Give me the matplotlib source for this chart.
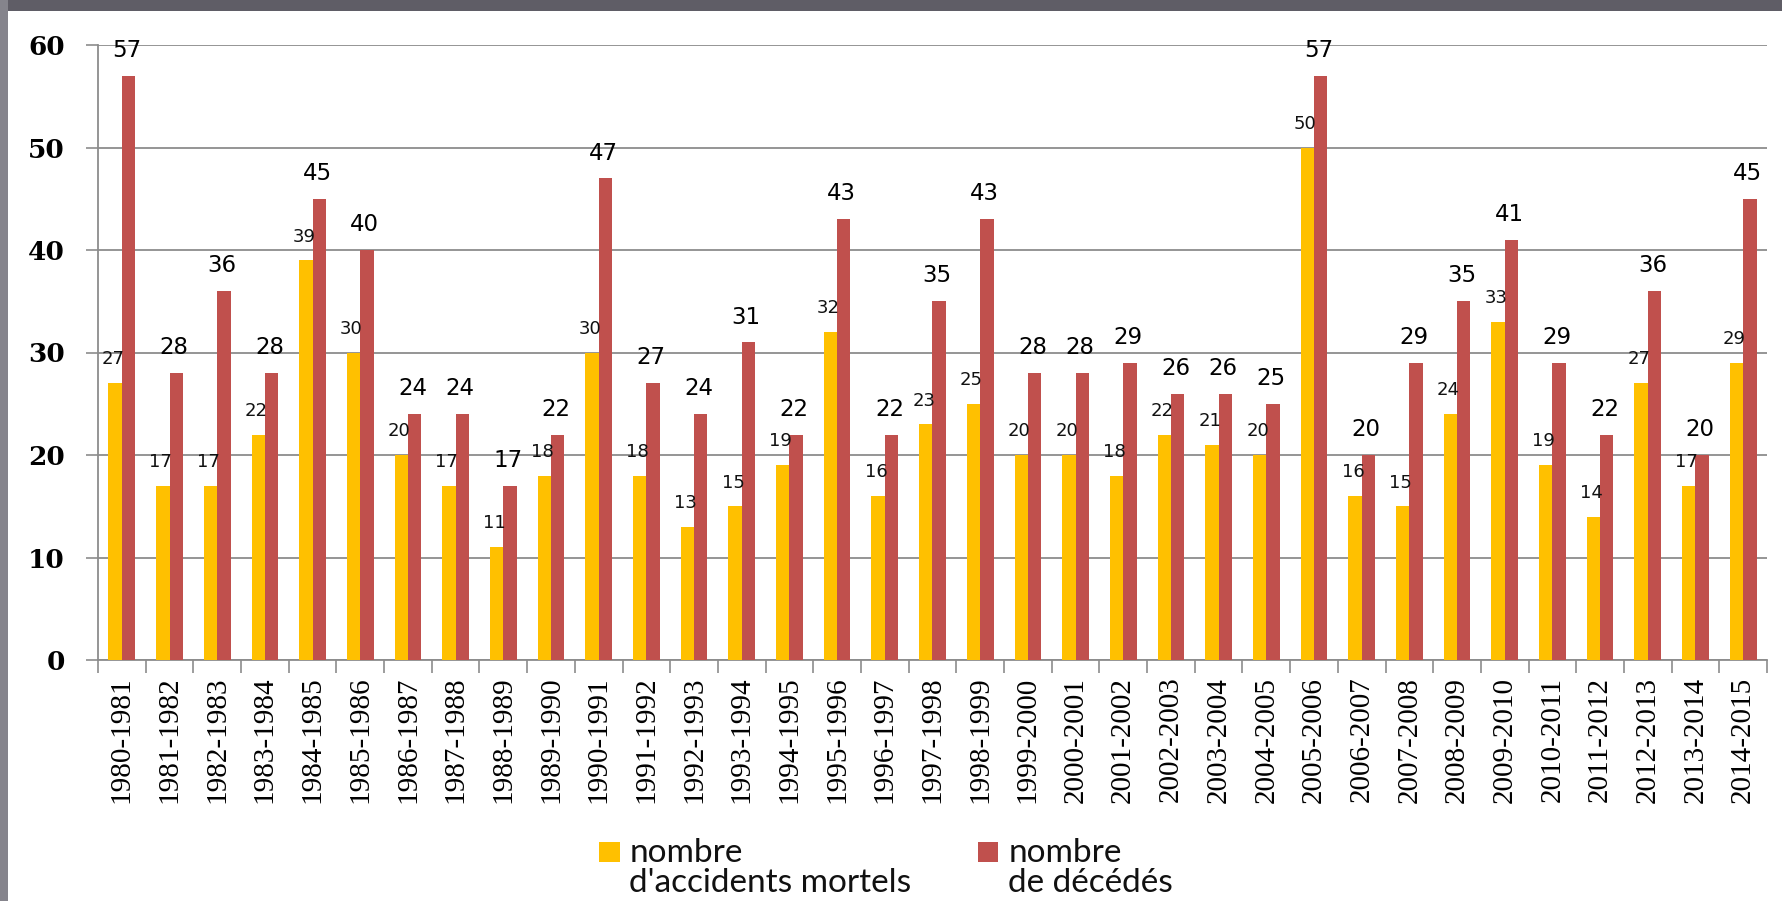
import matplotlib
matplotlib.use("Agg")
import matplotlib.pyplot as plt
from matplotlib.patches import Rectangle
from matplotlib.legend_handler import HandlerPatch
from matplotlib.font_manager import FontProperties
import numpy as np

seasons = ["1980-1981", "1981-1982", "1982-1983", "1983-1984", "1984-1985", "1985-1986",
           "1986-1987", "1987-1988", "1988-1989", "1989-1990", "1990-1991", "1991-1992",
           "1992-1993", "1993-1994", "1994-1995", "1995-1996", "1996-1997", "1997-1998",
           "1998-1999", "1999-2000", "2000-2001", "2001-2002", "2002-2003", "2003-2004",
           "2004-2005", "2005-2006", "2006-2007", "2007-2008", "2008-2009", "2009-2010",
           "2010-2011", "2011-2012", "2012-2013", "2013-2014", "2014-2015"]
accidents = [27, 17, 17, 22, 39, 30, 20, 17, 11, 18, 30, 18, 13, 15, 19, 32, 16, 23, 25, 20,
             20, 18, 22, 21, 20, 50, 16, 15, 24, 33, 19, 14, 27, 17, 29]
deces = [57, 28, 36, 28, 45, 40, 24, 24, 17, 22, 47, 27, 24, 31, 22, 43, 22, 35, 43, 28,
         28, 29, 26, 26, 25, 57, 20, 29, 35, 41, 29, 22, 36, 20, 45]
yticks = [0, 10, 20, 30, 40, 50, 60]
label_acc = "nombre\nd'accidents mortels"
label_dec = "nombre\nde décédés"

YELLOW = "#FFC000"
RED = "#C0504D"
GRID = "#8c8c8c"

fig = plt.figure(figsize=(17.83, 9.01), dpi=100)
fig.patch.set_facecolor("white")
# window frame decoration
fig.patches.append(Rectangle((0, 1 - 11 / 901), 1, 11 / 901, transform=fig.transFigure,
                             facecolor="#5f5d66", edgecolor="none", zorder=0))
fig.patches.append(Rectangle((0, 0), 8 / 1783, 1, transform=fig.transFigure,
                             facecolor="#85848c", edgecolor="none", zorder=0))

ax = fig.add_axes([98 / 1783, (901 - 660) / 901, (1767 - 98) / 1783, (660 - 45) / 901])
x = np.arange(len(seasons))
w = 0.28
b1 = ax.bar(x - 0.14, accidents, w, color=YELLOW, label=label_acc, zorder=3)
b2 = ax.bar(x + 0.14, deces, w, color=RED, label=label_dec, zorder=3)

for rect, v in zip(b1, accidents):
    ax.annotate(str(v), (rect.get_x() + rect.get_width() / 2, v), xytext=(-1.5, 13.5),
                textcoords="offset points", ha="center", va="baseline",
                fontsize=13, family="DejaVu Sans", color="#111111", zorder=4)
for rect, v in zip(b2, deces):
    ax.annotate(str(v), (rect.get_x() + rect.get_width() / 2, v), xytext=(-1.5, 13.5),
                textcoords="offset points", ha="center", va="baseline",
                fontsize=16.5, family="DejaVu Sans", color="#000000", zorder=4)

ax.set_xlim(-0.5, len(seasons) - 0.5)
ax.set_ylim(0, 60)
ax.set_yticks(yticks)
ax.set_yticklabels([str(t) for t in yticks],
                   fontproperties=FontProperties(family="DejaVu Serif", weight="bold", size=19))
ax.tick_params(axis="y", length=9, width=1.2, color=GRID, pad=15)
ax.set_xticks(x)
ax.set_xticklabels(seasons, rotation=90,
                   fontproperties=FontProperties(family="Liberation Serif", size=21))
ax.tick_params(axis="x", which="major", length=0, pad=12)
ax.set_xticks(np.arange(-0.5, len(seasons)), minor=True)
ax.tick_params(axis="x", which="minor", length=9, width=1.2, color=GRID)
ax.yaxis.grid(True, color=GRID, linewidth=1.3, zorder=0)
ax.set_axisbelow(True)
for s in ["top", "right"]:
    ax.spines[s].set_visible(False)
for s in ["left", "bottom"]:
    ax.spines[s].set_color(GRID)
    ax.spines[s].set_linewidth(1.3)


def top_square(legend, orig_handle, xdescent, ydescent, width, height, fontsize):
    size = 14.5
    return Rectangle((-xdescent, -ydescent + height / 2 - size / 2 + 11.5), size, size)


hm = {b1.patches[0]: HandlerPatch(patch_func=top_square),
      b2.patches[0]: HandlerPatch(patch_func=top_square)}
leg = fig.legend(handles=[b1.patches[0], b2.patches[0]], labels=[label_acc, label_dec], ncol=2,
                 loc="upper center", bbox_to_anchor=(0.497, 0.088), frameon=False,
                 prop={"family": "Lato", "size": 24}, handlelength=0.6,
                 handletextpad=0.3, columnspacing=2.0, labelspacing=0.2,
                 handler_map=hm, borderpad=0)
for t in leg.get_texts():
    t.set_linespacing(0.97)
    t.set_color("#111111")

fig.savefig("out.png", dpi=100)
